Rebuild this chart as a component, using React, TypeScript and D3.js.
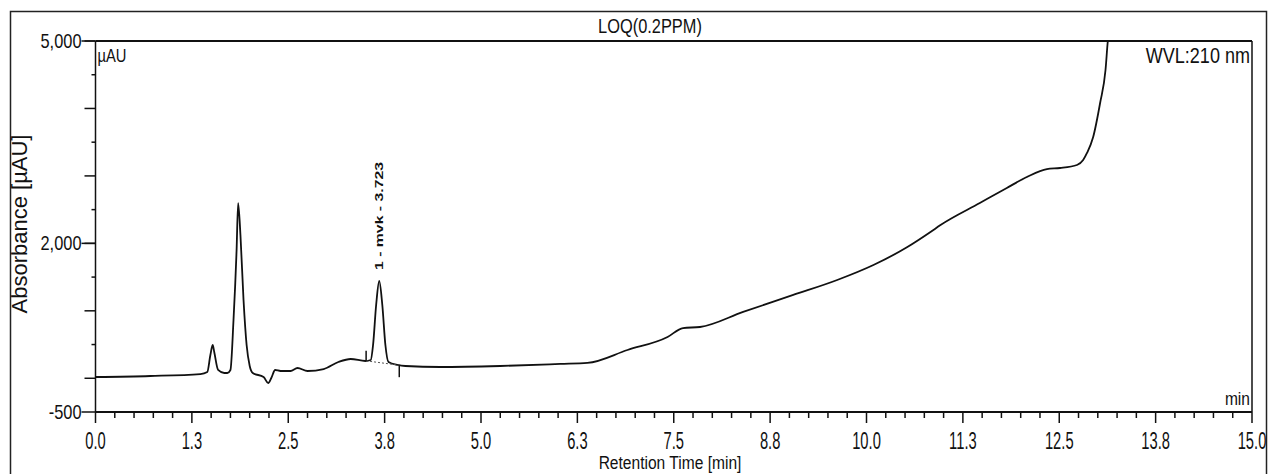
import * as d3 from "d3";

// retention time (min) and absorbance (µAU)
const times = [
  0, 0.71, 1.36, 1.45, 1.49, 1.52, 1.54, 1.59, 1.67, 1.71, 1.75, 1.79, 1.83, 1.85, 1.88, 1.92,
  1.96, 2.0, 2.04, 2.18, 2.24, 2.28, 2.33, 2.4, 2.53, 2.62, 2.75, 2.96, 3.15, 3.31, 3.5, 3.57,
  3.6, 3.64, 3.68, 3.72, 3.76, 3.8, 3.92, 4.02, 4.47, 5.25, 6.03, 6.38, 6.9, 7.42, 7.62, 7.84,
  8.4, 9.05, 9.62, 10.09, 10.53, 10.83, 10.96, 11.47, 11.82, 12.08, 12.34, 12.51, 12.73, 12.81,
  12.86, 12.94, 13.03, 13.1, 13.13, 13.16,
];
const values = [
  19, 34, 63, 93, 345, 493, 390, 123, 78, 78, 123, 864, 1902, 2598, 2124, 1160,
  493, 182, 78, 19, -70, 4, 123, 108, 108, 152, 108, 137, 241, 286, 256, 271,
  493, 1086, 1442, 1086, 493, 241, 197, 182, 167, 182, 212, 227, 419, 612, 745, 760,
  983, 1235, 1457, 1679, 1946, 2169, 2272, 2598, 2821, 2984, 3102, 3117, 3162, 3236,
  3340, 3577, 4081, 4570, 5000, 5240,
];

const xTickLabels = ["0.0", "1.3", "2.5", "3.8", "5.0", "6.3", "7.5", "8.8", "10.0", "11.3", "12.5", "13.8", "15.0"];
const yTickValues = [5000, 2000, -500];
const yTickLabels = ["5,000", "2,000", "-500"];

const title = "LOQ(0.2PPM)";
const peakTime = 3.68;
const peakLabel = "1 - mvk - 3.723";
const integrationMarks = [3.51, 3.94];

const W = 1271;
const H = 474;
const left = 95.5;
const right = 1252;
const top = 41;
const bottom = 412;
const FONT = "'Liberation Sans', Arial, sans-serif";

function NText({ x, y, size, sx = 0.82, anchor = "middle", children }: any) {
  return (
    <text
      transform={`translate(${x},${y}) scale(${sx},1)`}
      fontSize={size}
      fontFamily={FONT}
      textAnchor={anchor}
      fill="#111"
    >
      {children}
    </text>
  );
}

export default function App() {
  const x = d3.scaleLinear().domain([0, 15]).range([left, right]);
  const y = d3.scaleLinear().domain([-500, 5000]).range([bottom, top]);

  const pts = times.map((t, i) => [t, values[i]] as [number, number]);
  const line = d3
    .line<[number, number]>()
    .x((d) => x(d[0]))
    .y((d) => y(d[1]))
    .curve(d3.curveMonotoneX);

  const valueAt = (t: number) => {
    const i = d3.bisector((d: [number, number]) => d[0]).left(pts, t);
    const a = pts[Math.max(0, i - 1)];
    const b = pts[Math.min(pts.length - 1, i)];
    if (a[0] === b[0]) return a[1];
    return a[1] + ((t - a[0]) / (b[0] - a[0])) * (b[1] - a[1]);
  };

  const xTicks = d3.range(0, 15.001, 0.25);
  const yMajor = d3.range(0, 5001, 1000);
  const yMinor = d3.range(500, 5000, 1000);
  const peakTop = y(valueAt(peakTime));

  return (
    <svg
      width={W}
      height={H}
      style={{ position: "fixed", left: 0, top: 0, background: "#fff" }}
    >
      <defs>
        <clipPath id="plot">
          <rect x={left} y={top} width={right - left} height={bottom - top} />
        </clipPath>
      </defs>
      <rect x={10.5} y={11.5} width={1256} height={520} fill="none" stroke="#222" strokeWidth={1.5} />

      <NText x={650} y={33} size={20}>{title}</NText>

      {/* axes frame */}
      <line x1={left} x2={right} y1={top} y2={top} stroke="#111" strokeWidth={2} />
      <line x1={left} x2={left} y1={top} y2={bottom} stroke="#111" strokeWidth={1.5} />
      <line x1={right} x2={right} y1={top} y2={bottom} stroke="#111" strokeWidth={1.5} />
      <line x1={left} x2={right} y1={bottom} y2={bottom} stroke="#111" strokeWidth={2} />

      {/* y ticks */}
      {yMajor.map((v) => (
        <line key={"ym" + v} x1={left - 11} x2={left} y1={y(v)} y2={y(v)} stroke="#111" strokeWidth={1.5} />
      ))}
      {yMinor.map((v) => (
        <line key={"yn" + v} x1={left - 4} x2={left} y1={y(v)} y2={y(v)} stroke="#111" strokeWidth={1.5} />
      ))}
      {yTickValues.map((v, i) => (
        <g key={"yl" + v}>
          <line x1={left - 14} x2={left} y1={y(v)} y2={y(v)} stroke="#111" strokeWidth={1.5} />
          <NText x={left - 14} y={y(v) + 7} size={20} anchor="end">{yTickLabels[i]}</NText>
        </g>
      ))}

      {/* x ticks */}
      {xTicks.map((t, i) => (
        <line
          key={"xt" + i}
          x1={x(t)}
          x2={x(t)}
          y1={bottom}
          y2={bottom + (i % 5 === 0 ? 11 : 6)}
          stroke="#111"
          strokeWidth={1.5}
        />
      ))}
      {xTickLabels.map((s, i) => (
        <NText key={"xl" + i} x={x(i * 1.25)} y={449} size={23} sx={0.64}>{s}</NText>
      ))}

      <NText x={left + 2} y={62} size={18} anchor="start">µAU</NText>
      <NText x={right - 2} y={63} size={22} anchor="end">WVL:210 nm</NText>
      <NText x={right - 2} y={405} size={19} anchor="end">min</NText>

      <text
        transform={`translate(27,224) rotate(-90)`}
        fontSize={22}
        fontFamily={FONT}
        textAnchor="middle"
        fill="#111"
      >
        Absorbance [µAU]
      </text>
      <NText x={670} y={469} size={19}>Retention Time [min]</NText>

      {/* trace */}
      <g clipPath="url(#plot)">
        <path d={line(pts) ?? ""} fill="none" stroke="#111" strokeWidth={1.8} strokeLinejoin="round" />
      </g>

      {/* integration baseline and delimiters */}
      <line
        x1={x(integrationMarks[0])}
        x2={x(integrationMarks[1])}
        y1={y(valueAt(integrationMarks[0]))}
        y2={y(valueAt(integrationMarks[1]))}
        stroke="#555"
        strokeWidth={1}
        strokeDasharray="2 2"
      />
      <line
        x1={x(integrationMarks[0])}
        x2={x(integrationMarks[0])}
        y1={y(valueAt(integrationMarks[0])) - 10}
        y2={y(valueAt(integrationMarks[0]))}
        stroke="#111"
        strokeWidth={1.5}
      />
      <line
        x1={x(integrationMarks[1])}
        x2={x(integrationMarks[1])}
        y1={y(valueAt(integrationMarks[1]))}
        y2={y(valueAt(integrationMarks[1])) + 12}
        stroke="#111"
        strokeWidth={1.5}
      />

      <text
        transform={`translate(${x(peakTime) + 4},${peakTop - 11}) rotate(-90)`}
        fontSize={11}
        fontWeight="bold"
        fontFamily={FONT}
        textLength={108}
        lengthAdjust="spacingAndGlyphs"
        fill="#111"
      >
        {peakLabel}
      </text>
    </svg>
  );
}
